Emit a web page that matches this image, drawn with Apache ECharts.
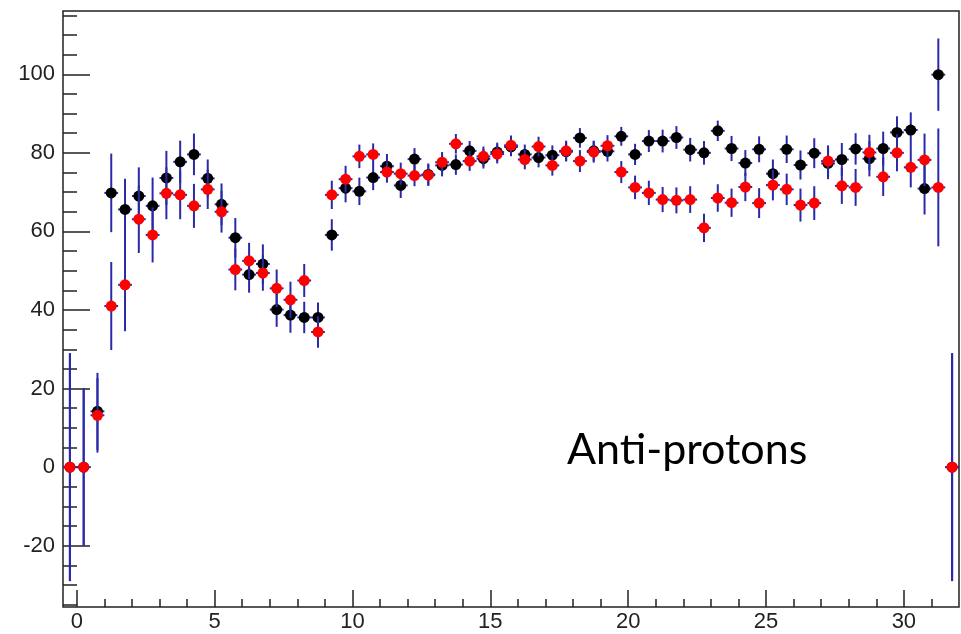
<!DOCTYPE html>
<html>
<head>
<meta charset="utf-8">
<script src="https://cdn.jsdelivr.net/npm/echarts@6/dist/echarts.min.js"></script>
<style>
  html, body { margin: 0; padding: 0; background: #fff; }
  #chart { width: 961px; height: 634px; }
</style>
</head>
<body>
<div id="chart"></div>
<script>
// bin centres (bin width 0.5, from -0.5 to 32)
var binCenters = [-0.25, 0.25, 0.75, 1.25, 1.75, 2.25, 2.75, 3.25, 3.75, 4.25,
  4.75, 5.25, 5.75, 6.25, 6.75, 7.25, 7.75, 8.25, 8.75, 9.25,
  9.75, 10.25, 10.75, 11.25, 11.75, 12.25, 12.75, 13.25, 13.75, 14.25,
  14.75, 15.25, 15.75, 16.25, 16.75, 17.25, 17.75, 18.25, 18.75, 19.25,
  19.75, 20.25, 20.75, 21.25, 21.75, 22.25, 22.75, 23.25, 23.75, 24.25,
  24.75, 25.25, 25.75, 26.25, 26.75, 27.25, 27.75, 28.25, 28.75, 29.25,
  29.75, 30.25, 30.75, 31.25, 31.75];

// black histogram
var blackVals = [0, 0, 14.2, 69.8, 65.6, 69.0, 66.5, 73.6, 77.7, 79.6,
  73.5, 66.9, 58.4, 49.0, 51.7, 40.1, 38.7, 38.1, 38.1, 59.1,
  71.0, 70.2, 73.7, 76.6, 71.7, 78.4, 74.5, 76.8, 77.0, 80.5,
  78.5, 80.2, 81.5, 79.6, 78.8, 79.4, 80.3, 83.8, 80.5, 80.4,
  84.2, 79.6, 83.0, 83.0, 83.9, 80.8, 80.0, 85.6, 81.1, 77.4,
  80.9, 74.7, 80.9, 76.9, 79.9, 77.3, 78.3, 81.0, 78.5, 81.1,
  85.2, 85.8, 70.9, 99.9, 0];
var blackErrs = [29, 20, 9.8, 10, 7.8, 7.3, 7.2, 6.9, 5.4, 5.3,
  4.8, 5.3, 5.0, 4.6, 5.0, 4.4, 4.5, 4.0, 3.8, 4.0,
  3.6, 3.5, 3.2, 3.1, 3.2, 2.8, 2.8, 2.8, 2.6, 2.5,
  2.5, 2.4, 2.4, 2.5, 2.5, 2.5, 2.5, 2.5, 2.6, 2.6,
  2.4, 2.7, 2.8, 2.9, 2.9, 3.0, 3.0, 2.6, 3.2, 3.3,
  3.3, 3.6, 3.5, 3.7, 3.8, 4.0, 4.2, 4.0, 4.5, 4.3,
  4.1, 4.5, 6.6, 9.2, 29];

// red histogram
var redVals = [0, 0, 13.2, 41.0, 46.4, 63.1, 59.1, 69.7, 69.3, 66.5,
  70.7, 65.0, 50.3, 52.5, 49.4, 45.5, 42.6, 47.5, 34.4, 69.3,
  73.3, 79.1, 79.6, 75.1, 74.7, 74.2, 74.3, 77.6, 82.3, 77.9,
  79.1, 79.7, 81.9, 78.3, 81.6, 76.8, 80.5, 77.9, 80.2, 81.8,
  75.1, 71.2, 69.8, 68.1, 67.9, 68.1, 60.9, 68.5, 67.3, 71.3,
  67.2, 71.8, 70.7, 66.7, 67.2, 77.9, 71.6, 71.2, 80.1, 73.9,
  80.0, 76.3, 78.2, 71.2, 0];
var redErrs = [29, 20, 9.5, 11.2, 11.8, 8.6, 7.0, 6.6, 6.2, 5.6,
  5.0, 5.3, 5.3, 4.6, 4.5, 4.8, 4.6, 4.2, 4.0, 3.6,
  3.4, 3.0, 2.8, 2.7, 2.8, 2.7, 2.7, 2.6, 2.5, 2.5,
  2.5, 2.4, 2.5, 2.5, 2.5, 2.6, 2.6, 2.8, 2.7, 2.7,
  2.8, 3.0, 3.1, 3.2, 3.3, 3.4, 3.6, 3.5, 3.6, 3.6,
  3.8, 3.9, 4.0, 4.2, 4.3, 4.0, 4.6, 4.7, 4.5, 4.9,
  4.7, 5.1, 6.7, 15, 29];

var xTickLabels = [0, 5, 10, 15, 20, 25, 30];
var yTickLabels = [-20, 0, 20, 40, 60, 80, 100];
var halfWidth = 0.25;

var chart = echarts.init(document.getElementById('chart'));

// frame of the plot, in pixels, and its value range
var L = 63, R = 959, T = 11, B = 607;
var X_MIN = -0.5, X_MAX = 32, Y_MIN = -35.6, Y_MAX = 116.1;
function px(x) { return L + (x - X_MIN) / (X_MAX - X_MIN) * (R - L); }
function py(y) { return T + (Y_MAX - y) / (Y_MAX - Y_MIN) * (B - T); }
function box(x0, x1, y0, y1) {
  return { left: px(x0), top: py(y1), width: px(x1) - px(x0), height: py(y0) - py(y1) };
}

var ink = '#222';
var barColor = '#2a2aa8';
var labelFont = 'Liberation Sans';

function hiddenAxis(i) {
  return { type: 'value', gridIndex: i, show: false, min: 0, max: 1 };
}

function errorBars(params, api) {
  var x = api.value(0), y = api.value(1), e = api.value(2);
  var lo = api.coord([x, y - e]), hi = api.coord([x, y + e]);
  var l = api.coord([x - halfWidth, y]), r = api.coord([x + halfWidth, y]);
  var style = { stroke: barColor, lineWidth: 2 };
  return {
    type: 'group',
    children: [
      { type: 'line', shape: { x1: lo[0], y1: lo[1], x2: hi[0], y2: hi[1] }, style: style },
      { type: 'line', shape: { x1: l[0], y1: l[1], x2: r[0], y2: r[1] }, style: style }
    ]
  };
}

var blackData = binCenters.map(function (x, i) { return [x, blackVals[i], blackErrs[i]]; });
var redData = binCenters.map(function (x, i) { return [x, redVals[i], redErrs[i]]; });

var g0 = box(X_MIN, X_MAX, Y_MIN, Y_MAX);
g0.show = true;
g0.borderColor = ink;
g0.borderWidth = 1.5;
g0.backgroundColor = 'transparent';

var yMajor = yTickLabels, xMajor = xTickLabels;

var option = {
  animation: false,
  backgroundColor: '#fff',
  grid: [
    g0,
    box(X_MIN, X_MAX, yMajor[0], yMajor[yMajor.length - 1]),
    box(X_MIN, X_MAX, -35, 115),
    box(xMajor[0], xMajor[xMajor.length - 1], Y_MIN, Y_MAX),
    box(0, 31, Y_MIN, Y_MAX)
  ],
  xAxis: [
    { type: 'value', gridIndex: 0, min: X_MIN, max: X_MAX, show: false },
    hiddenAxis(1),
    hiddenAxis(2),
    {
      type: 'value', gridIndex: 3,
      min: xMajor[0], max: xMajor[xMajor.length - 1], interval: xMajor[1] - xMajor[0],
      axisLine: { show: false, onZero: false },
      axisTick: { inside: true, length: 17, lineStyle: { color: ink, width: 1.5 } },
      axisLabel: { fontSize: 22, color: ink, margin: 4, fontFamily: labelFont },
      splitLine: { show: false }
    },
    {
      type: 'value', gridIndex: 4, min: 0, max: 31, interval: 1,
      axisLine: { show: false, onZero: false },
      axisTick: { inside: true, length: 8, lineStyle: { color: ink, width: 1.5 } },
      axisLabel: { show: false },
      splitLine: { show: false }
    }
  ],
  yAxis: [
    { type: 'value', gridIndex: 0, min: Y_MIN, max: Y_MAX, show: false },
    {
      type: 'value', gridIndex: 1,
      min: yMajor[0], max: yMajor[yMajor.length - 1], interval: yMajor[1] - yMajor[0],
      axisLine: { show: false, onZero: false },
      axisTick: { inside: true, length: 27, lineStyle: { color: ink, width: 1.5 } },
      axisLabel: { fontSize: 22, color: ink, margin: 8, fontFamily: labelFont },
      splitLine: { show: false }
    },
    {
      type: 'value', gridIndex: 2, min: -35, max: 115, interval: 5,
      axisLine: { show: false, onZero: false },
      axisTick: { inside: true, length: 14, lineStyle: { color: ink, width: 1.5 } },
      axisLabel: { show: false },
      splitLine: { show: false }
    },
    hiddenAxis(3),
    hiddenAxis(4)
  ],
  series: [
    {
      type: 'custom', name: 'black err', xAxisIndex: 0, yAxisIndex: 0,
      renderItem: errorBars, data: blackData, encode: { x: 0, y: 1 }, z: 2, clip: true
    },
    {
      type: 'scatter', name: 'black', xAxisIndex: 0, yAxisIndex: 0,
      data: blackData, symbol: 'circle', symbolSize: 11,
      itemStyle: { color: '#000', opacity: 1 }, z: 3
    },
    {
      type: 'custom', name: 'red err', xAxisIndex: 0, yAxisIndex: 0,
      renderItem: errorBars, data: redData, encode: { x: 0, y: 1 }, z: 4, clip: true
    },
    {
      type: 'scatter', name: 'red', xAxisIndex: 0, yAxisIndex: 0,
      data: redData, symbol: 'circle', symbolSize: 11,
      itemStyle: { color: '#ff0000', opacity: 1 }, z: 5
    }
  ],
  graphic: [
    {
      type: 'text', left: 567, top: 429, z: 10,
      style: { text: 'Anti-protons', fontSize: 43, fontFamily: 'Lato', fill: '#000' }
    }
  ]
};

chart.setOption(option);
</script>
</body>
</html>
